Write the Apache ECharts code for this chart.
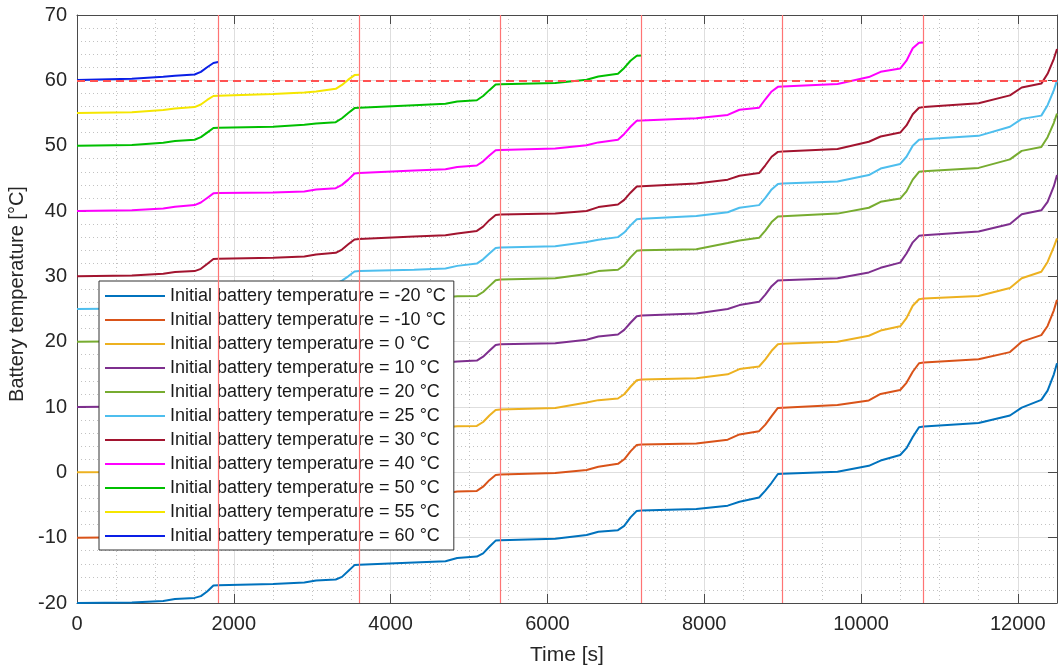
<!DOCTYPE html>
<html><head><meta charset="utf-8">
<script src="https://cdn.jsdelivr.net/npm/echarts@6/dist/echarts.min.js"></script>
<style>html,body{margin:0;padding:0;background:#fff}#chart{width:1058px;height:668px}</style>
</head><body><div id="chart"></div>
<script>
// ---- data ----
const time = [
  0,700,1100,1250,1500,1580,1660,1740,
  1800,2500,2900,3050,3300,3380,3460,3540,
  3600,4300,4700,4850,5100,5180,5260,5340,
  5400,6100,6500,6650,6900,6980,7060,7140,
  7200,7900,8300,8450,8700,8780,8860,8940,
  9000,9700,10100,10250,10500,10580,10660,10740,
  10800,11500,11900,12050,12300,12380,12460,12500];
const initTemps = ['-20','-10','0','10','20','25','30','40','50','55','60'];
const tM20 = [
  -20,-19.93,-19.7,-19.4,-19.22,-18.95,-18.25,-17.32,
  -17.3,-17.1,-16.85,-16.55,-16.4,-16.0,-15.1,-14.2,
  -14.15,-13.8,-13.6,-13.1,-12.9,-12.4,-11.4,-10.45,
  -10.4,-10.15,-9.6,-9.1,-8.85,-8.2,-6.9,-5.9,
  -5.85,-5.63,-5.1,-4.5,-3.85,-2.8,-1.6,-0.25,
  -0.2,0.1,1.0,1.8,2.65,3.7,5.4,6.9,
  7.0,7.55,8.7,9.9,11.1,12.5,15.0,16.7];
const tM10 = [
  -10,-9.93,-9.68,-9.35,-9.15,-8.8,-8.0,-7.3,
  -7.25,-7.05,-6.75,-6.4,-6.2,-5.75,-4.8,-3.8,
  -3.75,-3.35,-3.2,-2.95,-2.84,-2.2,-1.2,-0.4,
  -0.35,-0.1,0.35,0.85,1.3,2.0,3.2,4.2,
  4.25,4.4,5.0,5.8,6.3,7.3,8.6,9.85,
  9.9,10.3,11.0,12.0,12.6,13.7,15.4,16.7,
  16.8,17.3,18.4,20.0,21.0,22.4,24.8,26.4];
const t0 = [
  0,0.07,0.3,0.62,0.8,1.1,1.9,2.75,
  2.8,3.0,3.3,3.65,3.85,4.35,5.3,6.25,
  6.3,6.65,6.9,7.05,7.1,7.7,8.7,9.55,
  9.6,9.85,10.7,11.05,11.3,11.95,13.1,14.1,
  14.2,14.4,15.0,15.8,16.2,17.3,18.6,19.6,
  19.7,20.0,20.9,21.7,22.35,23.6,25.5,26.5,
  26.6,27.0,28.2,29.7,30.7,32.2,34.5,35.8];
const t10 = [
  10,10.07,10.3,10.62,10.8,11.15,11.95,12.85,
  12.9,13.1,13.4,13.75,13.95,14.45,15.3,16.2,
  16.25,16.55,16.8,16.95,17.1,17.7,18.6,19.5,
  19.6,19.75,20.3,20.8,21.1,21.8,22.9,23.9,
  24.0,24.3,25.0,25.6,26.1,27.2,28.5,29.35,
  29.4,29.7,30.6,31.3,32.1,33.5,35.2,36.2,
  36.3,36.85,38.0,39.5,40.1,41.4,43.8,45.5];
const t20 = [
  20,20.07,20.3,20.62,20.8,21.15,21.95,22.8,
  22.85,23.05,23.35,23.7,23.9,24.45,25.3,26.2,
  26.25,26.55,26.8,26.95,27.0,27.6,28.5,29.4,
  29.5,29.7,30.35,30.8,31.0,31.7,32.9,33.9,
  34.0,34.15,35.1,35.5,35.9,37.0,38.3,39.15,
  39.2,39.6,40.5,41.4,41.9,43.0,44.8,46.0,
  46.1,46.6,47.9,49.2,49.8,51.3,53.5,54.9];
const t25 = [
  25,25.07,25.3,25.62,25.8,26.15,26.95,27.75,
  27.8,28.0,28.3,28.65,28.85,29.35,30.0,30.75,
  30.8,31.0,31.2,31.6,31.95,32.6,33.5,34.35,
  34.4,34.6,35.25,35.6,36.0,36.7,37.8,38.75,
  38.8,39.25,39.8,40.5,40.9,42.0,43.3,44.15,
  44.2,44.5,45.5,46.5,47.2,48.3,50.0,50.9,
  51.0,51.5,52.9,54.1,54.6,56.2,58.5,60.0];
const t30 = [
  30,30.12,30.4,30.65,30.8,31.15,31.9,32.65,
  32.7,32.85,33.05,33.35,33.6,34.1,34.9,35.65,
  35.7,36.1,36.3,36.55,36.95,37.6,38.6,39.4,
  39.45,39.6,40.0,40.6,41.0,41.7,42.8,43.75,
  43.8,44.2,44.8,45.4,45.8,47.0,48.3,49.05,
  49.1,49.5,50.6,51.4,52.0,53.1,54.8,55.8,
  55.9,56.5,57.7,58.9,59.5,61.0,63.3,64.8];
const t40 = [
  40,40.12,40.4,40.65,40.9,41.3,42.0,42.7,
  42.75,42.85,43.0,43.3,43.5,44.0,44.8,45.75,
  45.8,46.2,46.4,46.75,46.97,47.6,48.5,49.3,
  49.35,49.55,50.05,50.5,50.9,51.8,52.9,53.8,
  53.85,54.2,54.7,55.5,55.8,57.1,58.3,59.0,
  59.05,59.45,60.5,61.3,61.8,63.0,64.9,65.75,
  65.8];
const t50 = [
  50,50.12,50.45,50.7,50.9,51.3,52.0,52.7,
  52.75,52.9,53.2,53.4,53.6,54.2,55.0,55.75,
  55.8,56.2,56.4,56.75,56.95,57.6,58.5,59.35,
  59.4,59.6,60.1,60.6,61.0,61.9,63.0,63.75,
  63.8];
const t55 = [
  55,55.12,55.45,55.7,55.9,56.3,57.0,57.6,
  57.65,57.9,58.15,58.3,58.7,59.3,60.1,60.8,
  60.85];
const t60 = [60.05,60.25,60.55,60.7,60.9,61.3,62.0,62.65,62.8];
const seriesValues = [tM20,tM10,t0,t10,t20,t25,t30,t40,t50,t55,t60];
const colors = ['#0072BD','#D95319','#EDB120','#7E2F8E','#77AC30','#4DBEEE','#A2142F','#FF00FF','#00BF00','#F5E600','#0A1FE6'];
const cycleLines = [1800,3600,5400,7200,9000,10800];
const limitTemp = 60;
const xTicks = {min:0,max:12500,interval:2000};
const yTicks = {min:-20,max:70,interval:10};
const xTitle = 'Time [s]';
const yTitle = 'Battery temperature [°C]';

// ---- chart ----
const FONT = '"Liberation Sans", Arial, Helvetica, sans-serif';
const TXT = '#262626';
const AX = '#4a4a4a';
const names = initTemps.map(t => 'Initial battery temperature = ' + t + ' °C');

const chart = echarts.init(document.getElementById('chart'), null, {renderer:'canvas'});

const series = seriesValues.map((vals, k) => ({
  type:'line', name:names[k], data: vals.map((v,i)=>[time[i], v]),
  symbol:'none', showSymbol:false, smooth:false, silent:true,
  lineStyle:{color:colors[k], width:2}, itemStyle:{color:colors[k]},
  z:3
}));
series.push({
  type:'line', name:'refs', data:[], silent:true, z:4,
  markLine:{
    symbol:['none','none'], silent:true, animation:false,
    label:{show:false}, emphasis:{disabled:true},
    data: cycleLines.map(v => ({xAxis:v, lineStyle:{color:'#ff7474',width:1.2,type:'solid'}}))
      .concat([{yAxis:limitTemp, lineStyle:{color:'#ff5252',width:2,type:[8,5]}}])
  }
});

const mainAxisCommon = {
  type:'value',
  axisLine:{show:true,onZero:false,lineStyle:{color:AX,width:1}},
  axisTick:{show:true,inside:true,length:9,lineStyle:{color:AX,width:1}},
  splitLine:{show:true,lineStyle:{color:'#dedede',width:1}},
  minorSplitLine:{show:true,lineStyle:{color:'#c2c2c2',width:1,type:[1,3]}}
};
const sideAxis = {
  type:'value',
  axisLine:{show:true,onZero:false,lineStyle:{color:AX,width:1}},
  axisTick:{show:true,inside:true,length:9,lineStyle:{color:AX,width:1}},
  axisLabel:{show:false}, splitLine:{show:false}
};

chart.setOption({
  animation:false,
  backgroundColor:'#ffffff',
  textStyle:{fontFamily:FONT},
  grid:{left:77,right:1,top:15,bottom:65,containLabel:false,outerBoundsMode:'none'},
  legend:{
    orient:'vertical', left:99, top:281, data:names,
    icon:'rect',
    backgroundColor:'#ffffff', borderColor:'#333333', borderWidth:1, borderRadius:0,
    padding:[6,8,5,6], itemWidth:60, itemHeight:2, itemGap:6,
    selectedMode:false,
    textStyle:{fontSize:18,color:'#1a1a1a',fontFamily:FONT,lineHeight:18}
  },
  xAxis:[
    Object.assign({}, mainAxisCommon, xTicks, {
      position:'bottom',
      name:xTitle, nameLocation:'middle', nameGap:42,
      nameTextStyle:{fontSize:21,color:TXT,fontFamily:FONT},
      axisLabel:{fontSize:20,color:TXT,margin:11,showMaxLabel:false,fontFamily:FONT,
        formatter:v => String(v)},
      minorTick:{show:false,splitNumber:4}
    }),
    Object.assign({}, sideAxis, xTicks, {position:'top'})
  ],
  yAxis:[
    Object.assign({}, mainAxisCommon, yTicks, {
      position:'left',
      name:yTitle, nameLocation:'middle', nameGap:44,
      nameTextStyle:{fontSize:20,color:TXT,fontFamily:FONT,padding:[0,0,0,30]},
      axisLabel:{fontSize:20,color:TXT,margin:10,fontFamily:FONT,formatter:v => String(v)},
      minorTick:{show:false,splitNumber:5}
    }),
    Object.assign({}, sideAxis, yTicks, {position:'right'})
  ],
  series: series
});
</script></body></html>
